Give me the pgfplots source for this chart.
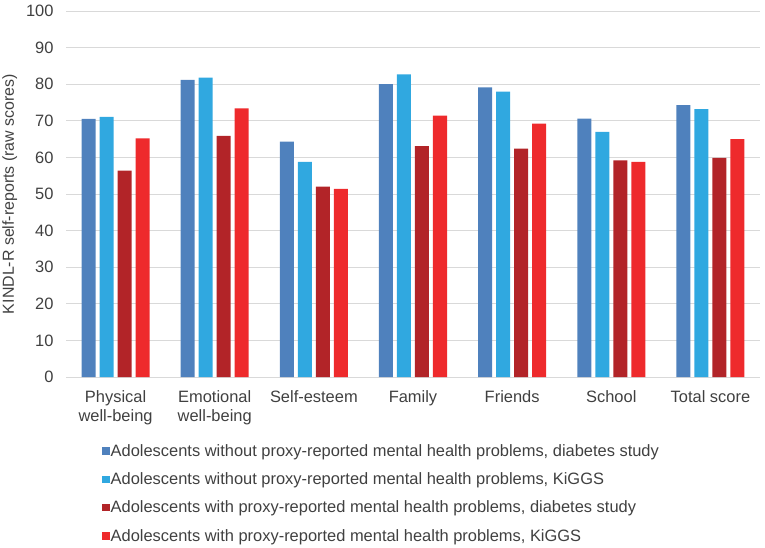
\documentclass[border=0pt]{standalone}
\usepackage{fontspec}
\setmainfont{Liberation Sans}
\usepackage{pgfplots}
\pgfplotsset{compat=1.18}
\definecolor{cA}{HTML}{4F81BD}
\definecolor{cB}{HTML}{30A8E0}
\definecolor{cC}{HTML}{B22428}
\definecolor{cD}{HTML}{EE2A2C}
\definecolor{txt}{HTML}{404040}
\definecolor{gridc}{HTML}{D9D9D9}
\begin{document}
\begin{tikzpicture}
\useasboundingbox (-66bp,-171bp) rectangle (699bp,377bp);
\begin{axis}[
  at={(0,0)}, anchor=south west,
  scale only axis, width=694bp, height=366bp,
  ybar=4bp, bar width=14bp,
  xmin=-0.5, xmax=6.5, ymin=0, ymax=100,
  ytick={0,10,...,100},
  xtick=data,
  /pgf/number format/assume math mode=true,
  xticklabels={{Physical\\well-being},{Emotional\\well-being},Self-esteem,Family,Friends,School,Total score},
  xticklabel style={align=center, font=\fontsize{16.5}{19}\selectfont, text=txt, yshift=-10bp},
  yticklabel style={font=\fontsize{16.5}{19}\selectfont, text=txt, xshift=-9bp},
  major tick length=0pt,
  axis line style={draw=none},
  axis x line*=bottom,
  x axis line style={draw=gridc, line width=0.8pt},
  ymajorgrids, grid style={gridc, line width=0.8pt},
  ylabel={KINDL-R self-reports (raw scores)},
  ylabel shift=2bp,
  ylabel style={font=\fontsize{16}{19}\selectfont, text=txt},
  legend style={at={(36bp,-66bp)}, anchor=north west, draw=none, fill=none,
    font=\fontsize{16.5}{19}\selectfont, text=txt, row sep=13bp, inner sep=0pt,
    nodes={inner sep=1bp}},
  legend cell align=left,
  legend image code/.code={\fill[#1] (-4bp,-3.7bp) rectangle (3.5bp,3.8bp);},
]
\addplot[fill=cA, draw=none] coordinates {(0,70.5) (1,81.2) (2,64.3) (3,80.0) (4,79.1) (5,70.6) (6,74.3)};
\addlegendentry{Adolescents without proxy-reported mental health problems, diabetes study}
\addplot[fill=cB, draw=none] coordinates {(0,71.1) (1,81.8) (2,58.8) (3,82.7) (4,78.0) (5,67.0) (6,73.2)};
\addlegendentry{Adolescents without proxy-reported mental health problems, KiGGS}
\addplot[fill=cC, draw=none] coordinates {(0,56.4) (1,65.9) (2,52.0) (3,63.1) (4,62.4) (5,59.2) (6,59.9)};
\addlegendentry{Adolescents with proxy-reported mental health problems, diabetes study}
\addplot[fill=cD, draw=none] coordinates {(0,65.2) (1,73.4) (2,51.4) (3,71.4) (4,69.2) (5,58.8) (6,65.0)};
\addlegendentry{Adolescents with proxy-reported mental health problems, KiGGS}
\end{axis}
\end{tikzpicture}
\end{document}
